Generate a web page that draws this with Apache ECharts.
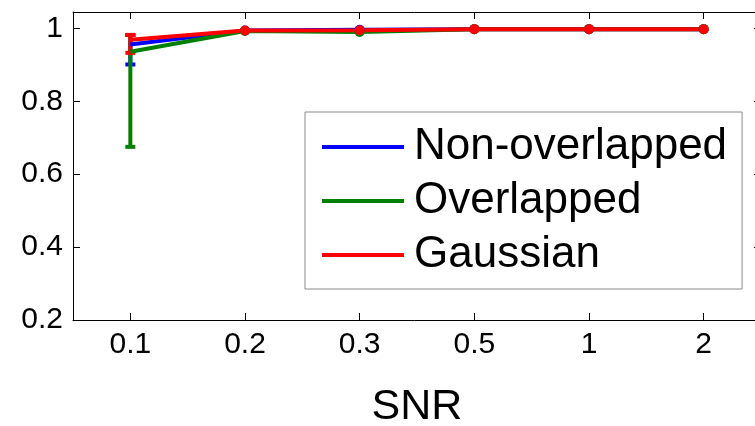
<!DOCTYPE html>
<html>
<head>
<meta charset="utf-8">
<script src="https://cdn.jsdelivr.net/npm/echarts@6/dist/echarts.min.js"></script>
<style>
  html, body { margin: 0; padding: 0; background: #fff; }
  #chart { width: 755px; height: 426px; }
</style>
</head>
<body>
<div id="chart"></div>
<script>
// SNR levels on the x axis
const snrLevels = ['0.1', '0.2', '0.3', '0.5', '1', '2'];

// Mean score for each method
const nonOverlapped = [0.956, 0.994, 0.996, 0.998, 0.998, 0.998];
const overlapped    = [0.936, 0.993, 0.990, 0.998, 0.998, 0.998];
const gaussian      = [0.969, 0.994, 0.995, 0.998, 0.998, 0.998];

// Error bar extents (null = no bar)
const nonOverlappedLow  = [0.901, null, null, null, null, null];
const nonOverlappedHigh = [0.982, null, null, null, null, null];
const overlappedLow     = [0.675, null, null, null, null, null];
const overlappedHigh    = [0.982, null, null, null, null, null];
const gaussianLow       = [0.933, null, null, null, null, null];
const gaussianHigh      = [0.982, null, null, null, null, null];

const yTicks = [0.2, 0.4, 0.6, 0.8, 1];

const FONT = '"Liberation Sans", Arial, Helvetica, sans-serif';
const BLUE = '#0000ff', GREEN = '#008000', RED = '#ff0000';

function barData(low, high) {
  const out = [];
  low.forEach((lo, i) => {
    if (lo != null && high[i] != null) out.push([i, lo, high[i]]);
  });
  return out;
}

function errorBarSeries(low, high, color) {
  return {
    type: 'custom',
    data: barData(low, high),
    encode: { x: 0, y: [1, 2] },
    renderItem(params, api) {
      const x = api.value(0);
      const pLo = api.coord([x, api.value(1)]);
      const pHi = api.coord([x, api.value(2)]);
      const hw = 5;
      const style = { stroke: color, lineWidth: 4, fill: null };
      return {
        type: 'group',
        children: [
          { type: 'line', shape: { x1: pLo[0], y1: pLo[1], x2: pHi[0], y2: pHi[1] }, style },
          { type: 'line', shape: { x1: pLo[0] - hw, y1: pLo[1], x2: pLo[0] + hw, y2: pLo[1] }, style },
          { type: 'line', shape: { x1: pHi[0] - hw, y1: pHi[1], x2: pHi[0] + hw, y2: pHi[1] }, style }
        ]
      };
    }
  };
}

function lineSeries(name, values, color) {
  return {
    name,
    type: 'line',
    data: values,
    symbol: 'circle',
    // points carrying an error bar are drawn without a marker
    symbolSize: (v, p) => (p.dataIndex === 0 ? 0 : 10),
    showSymbol: true,
    lineStyle: { color, width: 4 },
    itemStyle: { color },
    emphasis: { disabled: true },
    animation: false
  };
}

const axisLine = { show: true, lineStyle: { color: '#000', width: 1 } };
const tickStyle = { show: true, inside: true, length: 7, lineStyle: { color: '#000', width: 1 } };

const chart = echarts.init(document.getElementById('chart'), null, { renderer: 'canvas' });
chart.setOption({
  animation: false,
  backgroundColor: '#fff',
  textStyle: { fontFamily: FONT },
  grid: { left: 73, top: 12, width: 688, height: 308, containLabel: false, outerBoundsMode: 'none' },
  xAxis: [
    {
      type: 'category',
      data: snrLevels,
      boundaryGap: true,
      position: 'bottom',
      name: 'SNR',
      nameLocation: 'middle',
      nameGap: 66,
      nameTextStyle: { fontSize: 43, color: '#000', fontFamily: FONT },
      axisLine,
      axisTick: Object.assign({ alignWithLabel: true }, tickStyle),
      axisLabel: { fontSize: 30, color: '#000', margin: 10, fontFamily: FONT },
      splitLine: { show: false }
    },
    {
      type: 'category',
      data: snrLevels,
      boundaryGap: true,
      position: 'top',
      axisLine,
      axisTick: Object.assign({ alignWithLabel: true }, tickStyle),
      axisLabel: { show: false },
      splitLine: { show: false }
    }
  ],
  yAxis: [
    {
      type: 'value',
      min: 0.2,
      max: 1.045,
      interval: 0.2,
      position: 'left',
      axisLine,
      axisTick: Object.assign({ customValues: yTicks }, tickStyle),
      axisLabel: { customValues: yTicks, fontSize: 30, color: '#000', margin: 10, fontFamily: FONT },
      splitLine: { show: false }
    },
    {
      type: 'value',
      min: 0.2,
      max: 1.045,
      interval: 0.2,
      position: 'right',
      axisLine,
      axisTick: Object.assign({ customValues: yTicks }, tickStyle),
      axisLabel: { show: false },
      splitLine: { show: false }
    }
  ],
  legend: {
    data: ['Non-overlapped', 'Overlapped', 'Gaussian'],
    orient: 'vertical',
    left: 305,
    top: 112,
    padding: [13, 15, 12, 17],
    itemGap: 10,
    itemWidth: 82,
    itemHeight: 4,
    icon: 'rect',
    backgroundColor: '#fff',
    borderColor: '#8a8a8a',
    borderWidth: 1,
    borderRadius: 0,
    selectedMode: false,
    textStyle: { fontSize: 44, color: '#000', fontFamily: FONT, padding: [0, 0, 0, 5] }
  },
  series: [
    lineSeries('Non-overlapped', nonOverlapped, BLUE),
    errorBarSeries(nonOverlappedLow, nonOverlappedHigh, BLUE),
    lineSeries('Overlapped', overlapped, GREEN),
    errorBarSeries(overlappedLow, overlappedHigh, GREEN),
    lineSeries('Gaussian', gaussian, RED),
    errorBarSeries(gaussianLow, gaussianHigh, RED)
  ]
});
</script>
</body>
</html>
